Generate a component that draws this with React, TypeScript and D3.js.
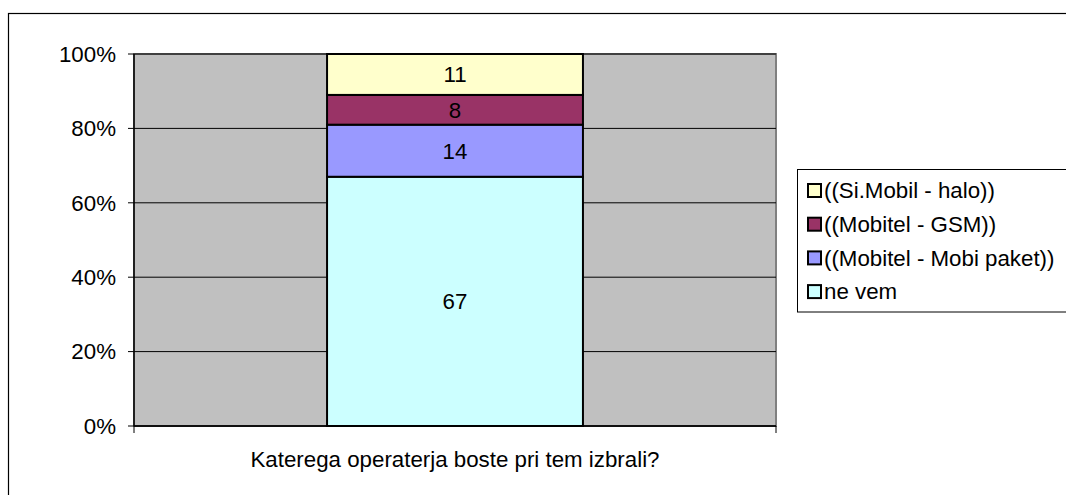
import React from "react";
import * as d3 from "d3";

const categories = ["Katerega operaterja boste pri tem izbrali?"];
const seriesNames = ["ne vem", "((Mobitel - Mobi paket))", "((Mobitel - GSM))", "((Si.Mobil - halo))"];
const seriesValues = [67, 14, 8, 11];
const seriesColors = ["#CCFFFF", "#9999FF", "#993366", "#FFFFCC"];
const yTicks = [0, 0.2, 0.4, 0.6, 0.8, 1.0];

const W = 1066;
const H = 495;
const plot = { left: 134, right: 776, top: 54, bottom: 426 };
const FONT = "'Liberation Sans', Arial, sans-serif";
const FS = 22.3;

export default function App() {
  const y = d3.scaleLinear().domain([0, 1]).range([plot.bottom, plot.top]);
  const x = d3.scaleBand().domain(categories).range([plot.left, plot.right]).paddingInner(0.43).paddingOuter(0.43);
  const total = d3.sum(seriesValues);
  const stack = d3.stack<any>().keys(seriesNames.map((_, i) => String(i)))([
    Object.fromEntries(seriesValues.map((v, i) => [String(i), v / total])),
  ]);
  const fmt = d3.format(".0%");
  const legendOrder = [3, 2, 1, 0];
  const legendTop = 169.5;
  const rowH = 33.7;

  return (
    <svg width={W} height={H} style={{ position: "absolute", left: 0, top: 0 }} fontFamily={FONT}>
      <rect x={0} y={0} width={W} height={H} fill="#fff" />
      <rect x={8.5} y={13.5} width={W + 20} height={H + 20} fill="none" stroke="#000" strokeWidth={1.2} />
      {/* plot area */}
      <rect
        x={plot.left}
        y={plot.top}
        width={plot.right - plot.left}
        height={plot.bottom - plot.top}
        fill="#C0C0C0"
        stroke="#808080"
        strokeWidth={2}
      />
      {yTicks.map((t) => (
        <line key={"g" + t} x1={plot.left} x2={plot.right} y1={y(t)} y2={y(t)} stroke="#000" strokeWidth={1} />
      ))}
      {/* axes */}
      <line x1={plot.left} x2={plot.left} y1={plot.top} y2={plot.bottom} stroke="#000" strokeWidth={1.5} />
      <line x1={plot.left} x2={plot.right} y1={plot.bottom} y2={plot.bottom} stroke="#000" strokeWidth={1.5} />
      {yTicks.map((t) => (
        <g key={"t" + t}>
          <line x1={plot.left - 6} x2={plot.left} y1={y(t)} y2={y(t)} stroke="#000" strokeWidth={1} />
          <text x={116} y={y(t)} dy="0.35em" textAnchor="end" fontSize={FS} fill="#000">
            {fmt(t)}
          </text>
        </g>
      ))}
      {[plot.left, plot.right].map((xx) => (
        <line key={"xt" + xx} x1={xx} x2={xx} y1={plot.bottom} y2={plot.bottom + 7} stroke="#000" strokeWidth={1} />
      ))}
      {/* bars */}
      {stack.map((s, i) => {
        const d = s[0];
        const x0 = x(categories[0])!;
        const bw = x.bandwidth();
        return (
          <g key={"b" + i}>
            <rect x={x0} y={y(d[1])} width={bw} height={y(d[0]) - y(d[1])} fill={seriesColors[i]} stroke="#000" strokeWidth={2} />
            <text
              x={x0 + bw / 2}
              y={(y(d[0]) + y(d[1])) / 2}
              dy="0.35em"
              textAnchor="middle"
              fontSize={FS}
              fill="#000"
            >
              {seriesValues[i]}
            </text>
          </g>
        );
      })}
      <text x={(plot.left + plot.right) / 2} y={467} textAnchor="middle" fontSize={FS} fill="#000">
        {categories[0]}
      </text>
      {/* legend */}
      <rect x={797.5} y={legendTop} width={300} height={142.5} fill="#fff" stroke="#000" strokeWidth={1} />
      {legendOrder.map((si, r) => {
        const cy = legendTop + 21 + r * rowH;
        return (
          <g key={"l" + si}>
            <rect x={808} y={cy - 6.5} width={13} height={13} fill={seriesColors[si]} stroke="#000" strokeWidth={2} />
            <text x={824} y={cy} dy="0.35em" fontSize={FS} fill="#000">
              {seriesNames[si]}
            </text>
          </g>
        );
      })}
    </svg>
  );
}
